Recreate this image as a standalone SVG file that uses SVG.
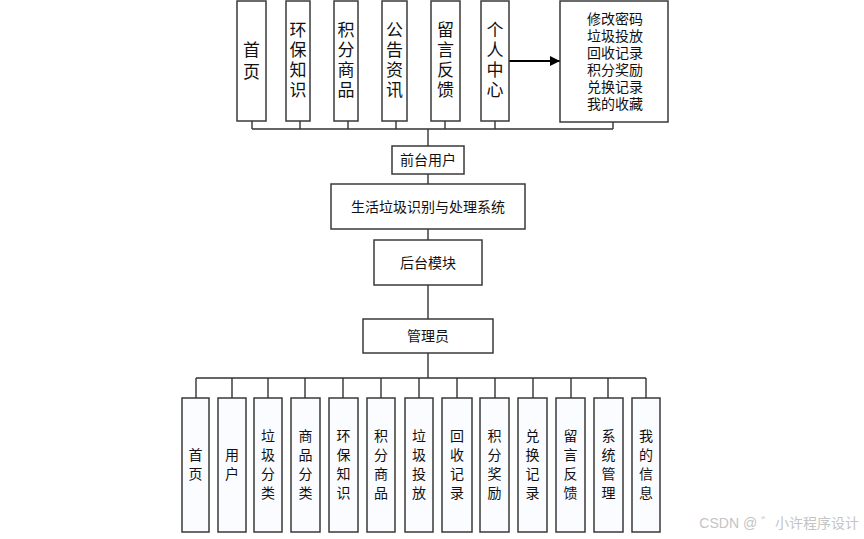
<svg xmlns="http://www.w3.org/2000/svg" width="864" height="539" viewBox="0 0 864 539">
<style>
.box{fill:#fff;stroke:#3a3a3a;stroke-width:1.5}
.bbox{fill:#fbfcff;stroke:#3a3a3a;stroke-width:1.5}
.t{font-family:"Liberation Sans","Noto Sans CJK SC",sans-serif;fill:#111;text-anchor:middle}
.t17{font-size:17px}
.t14{font-size:14px}
.ln{stroke:#333;stroke-width:1.4;fill:none}
</style>
<defs>
<marker id="arr" viewBox="0 0 10 10" refX="10" refY="5" markerWidth="10" markerHeight="10" markerUnits="userSpaceOnUse" orient="auto">
<path d="M0,0 L10,5 L0,10 z" fill="#000"/>
</marker>
</defs>
<rect width="864" height="539" fill="#fff"/>
<g id="connectors">
<path class="ln" d="M252,121 V129 M300,121 V129 M348,121 V129 M396,121 V129 M445,121 V129 M495,121 V129 M613,122 V129 M252,129 H613"/>
<path class="ln" d="M428,129 V146" stroke-width="2"/>
<path class="ln" d="M428,174 V184 M428,229 V240 M428,285 V319 M428,353 V378"/>
<path class="ln" d="M196,378 H646 M196,378 V398 M232,378 V398 M268,378 V398 M305,378 V398 M343,378 V398 M381,378 V398 M419,378 V398 M457,378 V398 M495,378 V398 M533,378 V398 M571,378 V398 M608,378 V398 M646,378 V398"/>
<path d="M509,61 H560" stroke="#000" stroke-width="2" marker-end="url(#arr)"/>
</g>
<g id="n-shouye"><rect class="box" x="237" y="1" width="29" height="120"/><text class="t t17"><tspan x="251.5" y="56">首</tspan><tspan x="251.5" y="78">页</tspan></text></g>
<g id="n-huanbao"><rect class="box" x="286" y="1" width="24" height="120"/><text class="t t17"><tspan x="298" y="36">环</tspan><tspan x="298" y="56">保</tspan><tspan x="298" y="76">知</tspan><tspan x="298" y="96">识</tspan></text></g>
<g id="n-jifen"><rect class="box" x="334" y="1" width="24" height="120"/><text class="t t17"><tspan x="346" y="36">积</tspan><tspan x="346" y="56">分</tspan><tspan x="346" y="76">商</tspan><tspan x="346" y="96">品</tspan></text></g>
<g id="n-gonggao"><rect class="box" x="382" y="1" width="25" height="120"/><text class="t t17"><tspan x="394.5" y="36">公</tspan><tspan x="394.5" y="56">告</tspan><tspan x="394.5" y="76">资</tspan><tspan x="394.5" y="96">讯</tspan></text></g>
<g id="n-liuyan"><rect class="box" x="431" y="1" width="29" height="120"/><text class="t t17"><tspan x="445.5" y="36">留</tspan><tspan x="445.5" y="56">言</tspan><tspan x="445.5" y="76">反</tspan><tspan x="445.5" y="96">馈</tspan></text></g>
<g id="n-geren"><rect class="box" x="481" y="1" width="28" height="120"/><text class="t t17"><tspan x="495" y="36">个</tspan><tspan x="495" y="56">人</tspan><tspan x="495" y="76">中</tspan><tspan x="495" y="96">心</tspan></text></g>
<g id="n-geren-list"><rect class="box" x="560" y="1" width="108" height="121"/><text class="t t14"><tspan x="615" y="24">修改密码</tspan><tspan x="615" y="41">垃圾投放</tspan><tspan x="615" y="58">回收记录</tspan><tspan x="615" y="75">积分奖励</tspan><tspan x="615" y="92">兑换记录</tspan><tspan x="615" y="109">我的收藏</tspan></text></g>
<g id="n-qiantai"><rect class="box" x="392" y="146" width="72" height="28"/><text class="t t14" x="428" y="165">前台用户</text></g>
<g id="n-system"><rect class="box" x="331" y="184" width="194" height="45"/><text class="t t14" x="428" y="212">生活垃圾识别与处理系统</text></g>
<g id="n-houtai"><rect class="box" x="374" y="240" width="108" height="45"/><text class="t t14" x="428" y="268">后台模块</text></g>
<g id="n-admin"><rect class="box" x="363" y="319" width="130" height="34"/><text class="t t14" x="428" y="341">管理员</text></g>
<g id="b-shouye"><rect class="bbox" x="182" y="398" width="27" height="134"/><text class="t t14"><tspan x="195.5" y="460">首</tspan><tspan x="195.5" y="479">页</tspan></text></g>
<g id="b-yonghu"><rect class="bbox" x="218" y="398" width="28" height="134"/><text class="t t14"><tspan x="232" y="460">用</tspan><tspan x="232" y="479">户</tspan></text></g>
<g id="b-ljfl"><rect class="bbox" x="254" y="398" width="28" height="134"/><text class="t t14"><tspan x="268" y="441">垃</tspan><tspan x="268" y="460">圾</tspan><tspan x="268" y="479">分</tspan><tspan x="268" y="498">类</tspan></text></g>
<g id="b-spfl"><rect class="bbox" x="291" y="398" width="29" height="134"/><text class="t t14"><tspan x="305.5" y="441">商</tspan><tspan x="305.5" y="460">品</tspan><tspan x="305.5" y="479">分</tspan><tspan x="305.5" y="498">类</tspan></text></g>
<g id="b-hbzs"><rect class="bbox" x="329" y="398" width="29" height="134"/><text class="t t14"><tspan x="343.5" y="441">环</tspan><tspan x="343.5" y="460">保</tspan><tspan x="343.5" y="479">知</tspan><tspan x="343.5" y="498">识</tspan></text></g>
<g id="b-jfsp"><rect class="bbox" x="367" y="398" width="28" height="134"/><text class="t t14"><tspan x="381" y="441">积</tspan><tspan x="381" y="460">分</tspan><tspan x="381" y="479">商</tspan><tspan x="381" y="498">品</tspan></text></g>
<g id="b-ljtf"><rect class="bbox" x="405" y="398" width="28" height="134"/><text class="t t14"><tspan x="419" y="441">垃</tspan><tspan x="419" y="460">圾</tspan><tspan x="419" y="479">投</tspan><tspan x="419" y="498">放</tspan></text></g>
<g id="b-hsjl"><rect class="bbox" x="442" y="398" width="30" height="134"/><text class="t t14"><tspan x="457" y="441">回</tspan><tspan x="457" y="460">收</tspan><tspan x="457" y="479">记</tspan><tspan x="457" y="498">录</tspan></text></g>
<g id="b-jfjl"><rect class="bbox" x="480" y="398" width="29" height="134"/><text class="t t14"><tspan x="494.5" y="441">积</tspan><tspan x="494.5" y="460">分</tspan><tspan x="494.5" y="479">奖</tspan><tspan x="494.5" y="498">励</tspan></text></g>
<g id="b-dhjl"><rect class="bbox" x="518" y="398" width="29" height="134"/><text class="t t14"><tspan x="532.5" y="441">兑</tspan><tspan x="532.5" y="460">换</tspan><tspan x="532.5" y="479">记</tspan><tspan x="532.5" y="498">录</tspan></text></g>
<g id="b-lyfk"><rect class="bbox" x="556" y="398" width="29" height="134"/><text class="t t14"><tspan x="570.5" y="441">留</tspan><tspan x="570.5" y="460">言</tspan><tspan x="570.5" y="479">反</tspan><tspan x="570.5" y="498">馈</tspan></text></g>
<g id="b-xtgl"><rect class="bbox" x="594" y="398" width="29" height="134"/><text class="t t14"><tspan x="608.5" y="441">系</tspan><tspan x="608.5" y="460">统</tspan><tspan x="608.5" y="479">管</tspan><tspan x="608.5" y="498">理</tspan></text></g>
<g id="b-wdxx"><rect class="bbox" x="632" y="398" width="28" height="134"/><text class="t t14"><tspan x="646" y="441">我</tspan><tspan x="646" y="460">的</tspan><tspan x="646" y="479">信</tspan><tspan x="646" y="498">息</tspan></text></g>
<text x="859" y="528" font-family="Liberation Sans,Noto Sans CJK SC,sans-serif" font-size="14" fill="#c4c4c4" text-anchor="end">CSDN @ ゛小许程序设计</text>
</svg>
